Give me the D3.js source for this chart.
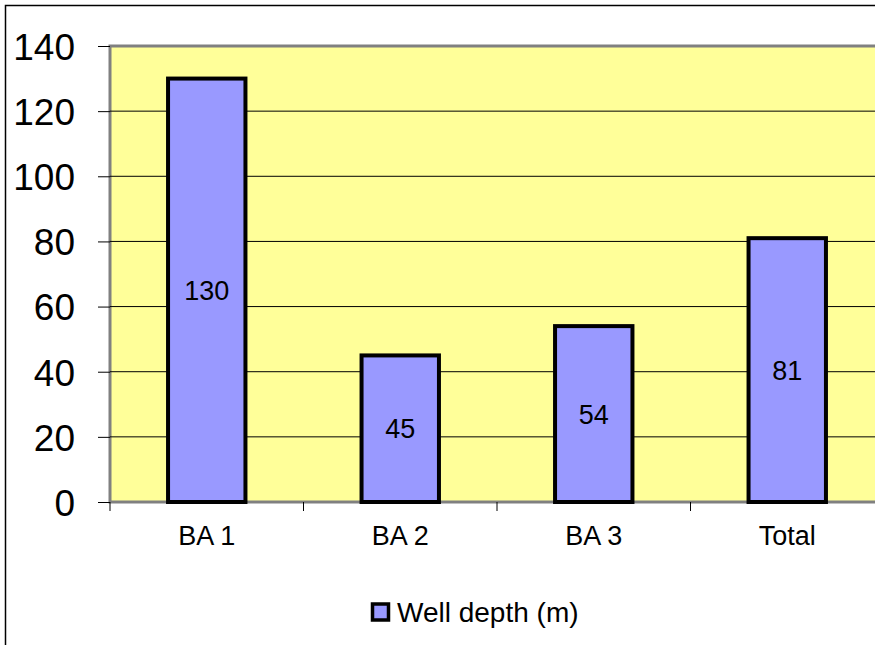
<!DOCTYPE html>
<html>
<head>
<meta charset="utf-8">
<script src="https://cdn.jsdelivr.net/npm/d3@7"></script>
<style>
  body { margin: 0; background: #fff; }
  text { font-family: "Liberation Sans", Arial, sans-serif; fill: #000; }
</style>
</head>
<body>
<svg></svg>
<script>
var categories = ["BA 1", "BA 2", "BA 3", "Total"];
var depths = [130, 45, 54, 81];
var yTicks = [0, 20, 40, 60, 80, 100, 120, 140];
var seriesName = "Well depth (m)";

var width = 875, height = 645;
var margins = { left: 110, top: 46, right: -9, bottom: 143 };

var svg = d3.select("svg")
  .attr("width", width)
  .attr("height", height);

// outer chart frame (right and bottom run off the picture)
svg.append("path")
  .attr("d", "M5.5," + height + "V5.5H" + width)
  .attr("fill", "none")
  .attr("stroke", "#000")
  .attr("stroke-width", 1.5);

var x = d3.scaleBand()
  .domain(categories)
  .range([margins.left, width - margins.right])
  .paddingInner(0)
  .paddingOuter(0);

var y = d3.scaleLinear()
  .domain([0, 140])
  .range([height - margins.bottom, margins.top]);

// plot area
svg.append("rect")
  .attr("x", margins.left)
  .attr("y", margins.top)
  .attr("width", width - margins.right - margins.left)
  .attr("height", y(0) - margins.top)
  .attr("fill", "#ffff99")
  .attr("stroke", "#808080")
  .attr("stroke-width", 3);

// gridlines
svg.append("g")
  .selectAll("line")
  .data(yTicks.filter(d => d > 0 && d < 140))
  .enter().append("line")
  .attr("x1", margins.left)
  .attr("x2", width)
  .attr("y1", d => y(d))
  .attr("y2", d => y(d))
  .attr("stroke", "#000")
  .attr("stroke-width", 1);

// y axis
svg.append("g")
  .attr("transform", "translate(" + margins.left + ",0)")
  .call(d3.axisLeft(y).tickValues(yTicks).tickSize(12).tickPadding(23))
  .call(g => g.select(".domain").remove())
  .call(g => g.selectAll("line").attr("stroke", "#000"))
  .call(g => g.selectAll("text")
    .attr("font-size", 37)
    .attr("dy", "0.36em"));

// x axis
svg.append("g")
  .attr("transform", "translate(0," + y(0) + ")")
  .call(d3.axisBottom(x).tickSize(0).tickPadding(24))
  .call(g => g.select(".domain").remove())
  .call(g => g.selectAll("text").attr("font-size", 27));

svg.append("g")
  .selectAll("line")
  .data(categories.concat([null]))
  .enter().append("line")
  .attr("x1", (d, i) => margins.left + x.bandwidth() * i)
  .attr("x2", (d, i) => margins.left + x.bandwidth() * i)
  .attr("y1", y(0))
  .attr("y2", y(0) + 9)
  .attr("stroke", "#000");

// bars
var barW = x.bandwidth() * 0.4;
svg.append("g")
  .selectAll("rect")
  .data(depths)
  .enter().append("rect")
  .attr("x", (d, i) => x(categories[i]) + (x.bandwidth() - barW) / 2)
  .attr("y", d => y(d))
  .attr("width", barW)
  .attr("height", d => y(0) - y(d))
  .attr("fill", "#9999ff")
  .attr("stroke", "#000")
  .attr("stroke-width", 4);

// value labels
svg.append("g")
  .selectAll("text")
  .data(depths)
  .enter().append("text")
  .attr("x", (d, i) => x(categories[i]) + x.bandwidth() / 2)
  .attr("y", d => (y(d) + y(0)) / 2)
  .attr("dy", "0.36em")
  .attr("text-anchor", "middle")
  .attr("font-size", 27)
  .text(d => d);

// legend
var legend = svg.append("g").attr("transform", "translate(371,612)");
legend.append("rect")
  .attr("x", 1.5).attr("y", -8)
  .attr("width", 16).attr("height", 16)
  .attr("fill", "#9999ff")
  .attr("stroke", "#000")
  .attr("stroke-width", 3.5);
legend.append("text")
  .attr("x", 26)
  .attr("dy", "0.36em")
  .attr("font-size", 28)
  .text(seriesName);
</script>
</body>
</html>
